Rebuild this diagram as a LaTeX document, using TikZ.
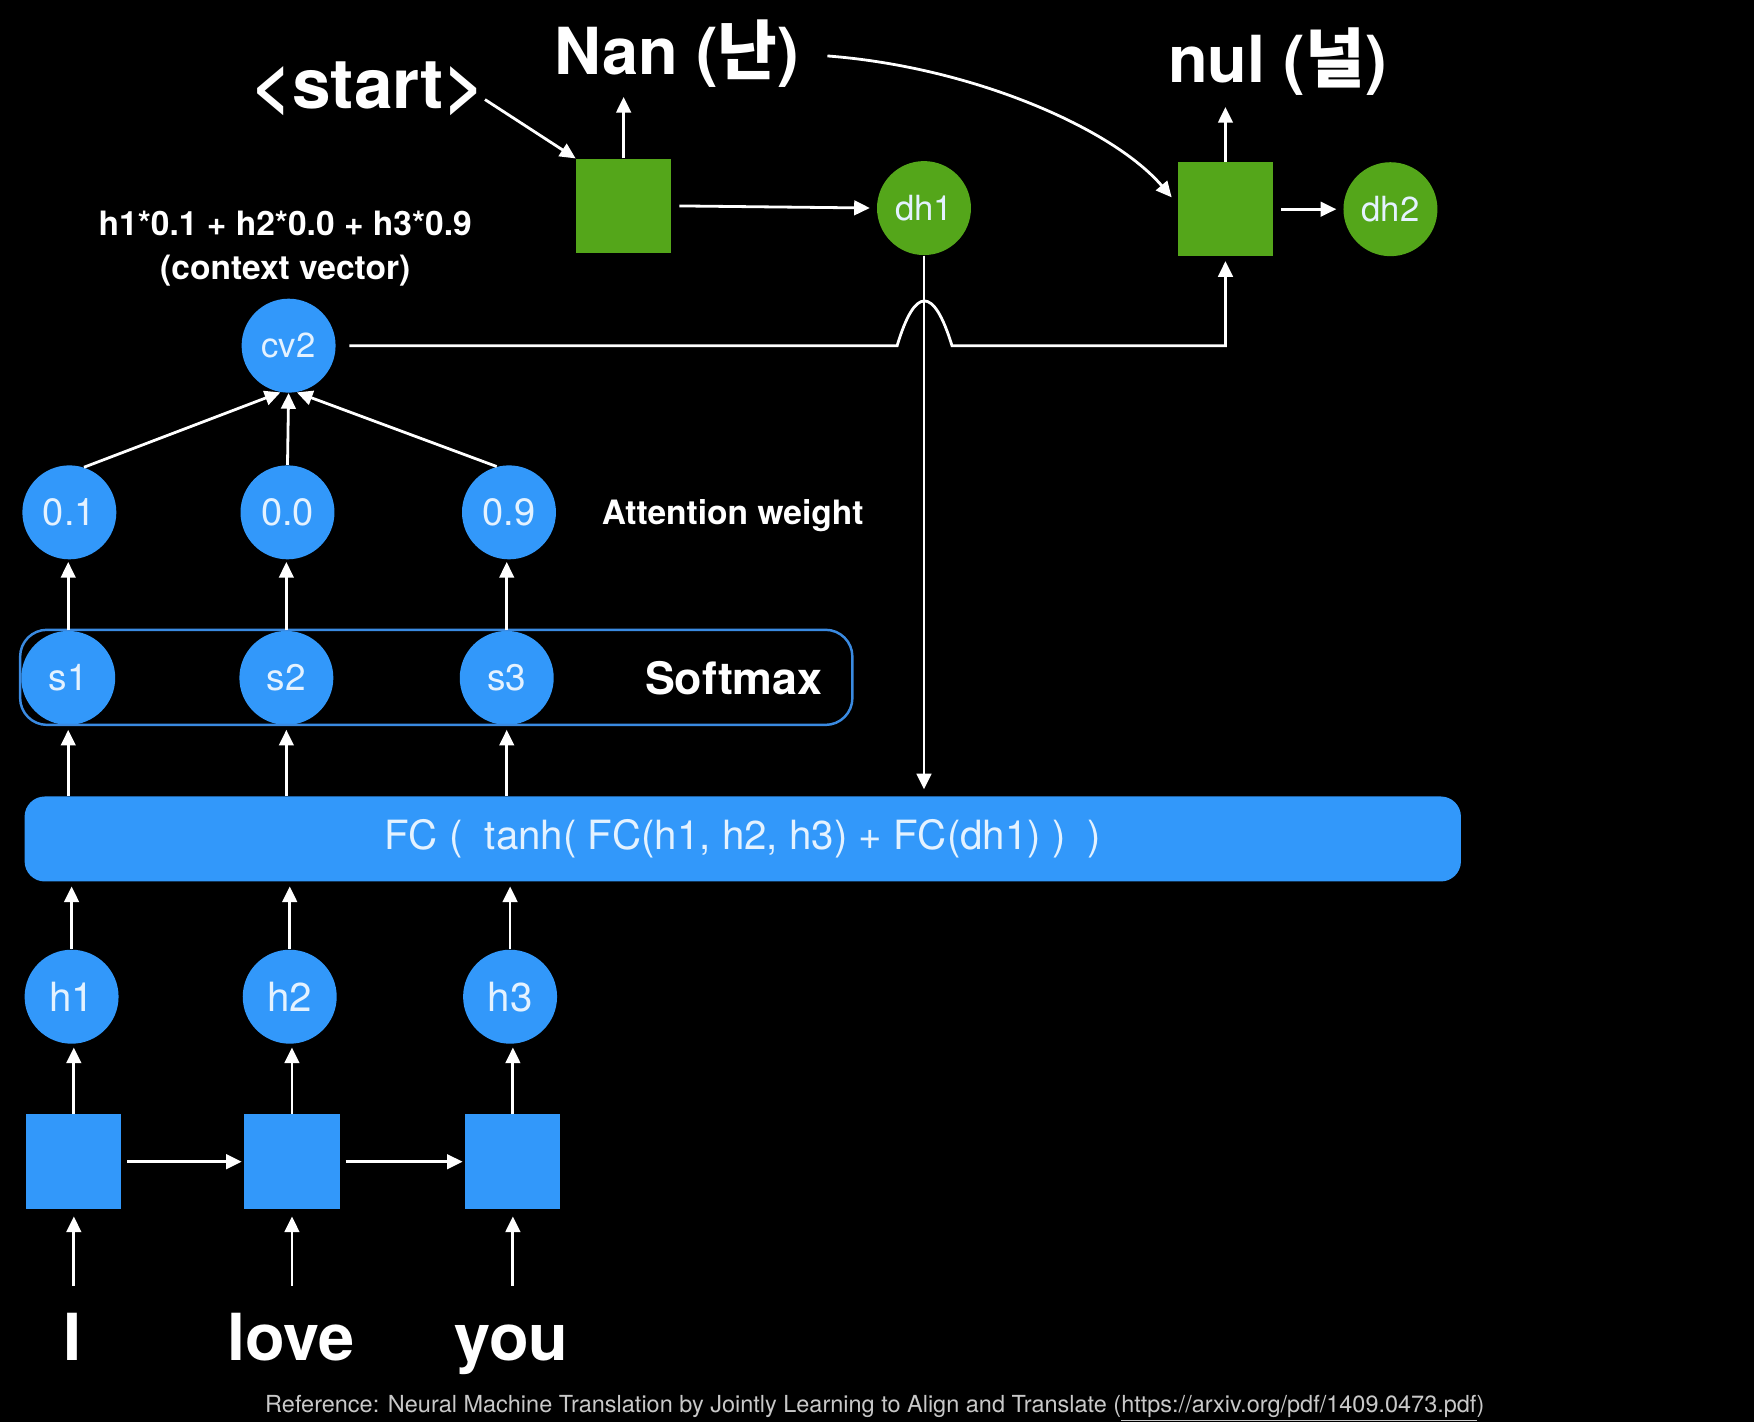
\documentclass[tikz,border=0pt]{standalone}
\usepackage{fontspec}
\setmainfont{TeX Gyre Heros}
\newfontfamily\kr{Noto Sans CJK KR}
\usetikzlibrary{arrows.meta,calc}
\definecolor{nblue}{RGB}{50,152,250}
\definecolor{ngreen}{RGB}{84,166,26}
\definecolor{sbox}{RGB}{58,138,225}
\definecolor{ctext}{RGB}{228,242,255}
\definecolor{foot}{RGB}{200,200,200}
\begin{document}
\begin{tikzpicture}[x=0.5pt,y=-0.5pt,
  circ/.style={circle,fill=nblue,minimum size=42pt,inner sep=0pt,text=ctext,font=\fontsize{17}{20}\selectfont},
  gcirc/.style={circ,fill=ngreen,font=\fontsize{15.5}{18}\selectfont},
  bsq/.style={rectangle,fill=nblue,minimum width=42.5pt,minimum height=42.5pt,inner sep=0pt},
  gsq/.style={rectangle,fill=ngreen,minimum width=42.5pt,minimum height=42pt,inner sep=0pt},
  arr/.style={draw=white,line width=1.25pt,-{Triangle[length=7pt,width=6.5pt]}},
  bigtxt/.style={text=white,inner sep=2pt,font=\fontsize{29}{34}\selectfont\bfseries},
  midtxt/.style={text=white,inner sep=2pt,font=\fontsize{15}{19.5}\selectfont\bfseries},
]
\useasboundingbox (0,0) rectangle (1568,1271);
\path[fill=black] (0,0) rectangle (1568,1271);

% decoder
\node[bigtxt,font=\fontsize{31}{36}\selectfont\bfseries] (start) at (329,79) {<start>};
\node[bigtxt] (nan) at (605,48) {Nan ({\kr 난})};
\node[bigtxt] (nul) at (1142,55) {nul ({\kr 널})};
\node[gsq] (g1) at (557.5,184) {};
\node[gsq] (g2) at (1095.5,187) {};
\node[gcirc] (dh1) at (826,186) {dh1};
\node[gcirc] (dh2) at (1243,187) {dh2};

\draw[arr] ($(start.east)+(-4,10)$) -- (g1.north west);
\draw[arr,shorten >=2pt] (g1.north) -- (g1.north |- nan.south);
\draw[arr,shorten >=3pt] (g2.north) -- (g2.north |- nul.south);
\draw[arr,shorten <=3.5pt,shorten >=3pt] (g1.east) -- (dh1.west);
\draw[arr,shorten <=3.5pt,shorten >=3pt] (g2.east) -- (dh2.west);
\draw[arr,shorten >=4pt] ($(nan.east)+(21,2)$) .. controls (870,60) and (995,115) .. (g2.174);

% context vector
\node[midtxt,align=center] (ctx) at (255,222) {h1*0.1 + h2*0.0 + h3*0.9\\(context vector)};
\node[circ,font=\fontsize{15.5}{18}\selectfont] (cv2) at (258,309) {cv2};
\node[circ] (w1) at (62,458) {0.1};
\node[circ] (w2) at (257,458) {0.0};
\node[circ] (w3) at (455,458) {0.9};
\node[midtxt] (attn) at (655,461) {Attention weight};

\draw[arr] (w1.72) -- (cv2.-100);
\draw[arr] (w2.north) -- (cv2.south);
\draw[arr] (w3.105) -- (cv2.-80);

% hop connector
\draw[arr,shorten <=6pt,shorten >=2pt] (cv2.east) -- (802,309)
  .. controls (818,255.7) and (834.7,255.7) .. (851,309) -| (g2.south);

% softmax
\node[circ,font=\fontsize{16.5}{19}\selectfont] (s1) at (61,606) {s1};
\node[circ,font=\fontsize{16.5}{19}\selectfont] (s2) at (256,606) {s2};
\node[circ,font=\fontsize{16.5}{19}\selectfont] (s3) at (453,606) {s3};
\node[draw=sbox,line width=1.1pt,rounded corners=12pt,minimum width=372pt,minimum height=42.5pt] (smbox) at (390,605.5) {};
\node[text=white,font=\fontsize{20}{24}\selectfont\bfseries] (smtxt) at (656,606) {Softmax};

\draw[arr,shorten >=1pt] (s1.north) -- (s1.north |- w1.south);
\draw[arr,shorten >=1pt] (s2.north) -- (s2.north |- w2.south);
\draw[arr,shorten >=1pt] (s3.north) -- (s3.north |- w3.south);

% FC bar
\node[fill=nblue,rounded corners=9pt,minimum width=642pt,minimum height=38pt,inner sep=0pt,text=ctext,font=\fontsize{18}{22}\selectfont] (fc) at (664,750) {FC (\ \ tanh( FC(h1, h2, h3) + FC(dh1) )\ \ )};

\draw[arr,shorten >=2pt] (fc.north -| s1) -- (s1.south);
\draw[arr,shorten >=2pt] (fc.north -| s2) -- (s2.south);
\draw[arr,shorten >=2pt] (fc.north -| s3) -- (s3.south);
\draw[arr,shorten >=3pt] (dh1.south) -- (dh1.south |- fc.north);

% encoder
\node[circ,font=\fontsize{18}{21}\selectfont] (h1) at (64,891) {h1};
\node[circ,font=\fontsize{18}{21}\selectfont] (h2) at (259,891) {h2};
\node[circ,font=\fontsize{18}{21}\selectfont] (h3) at (456,891) {h3};
\node[bsq] (b1) at (66,1038.5) {};
\node[bsq] (b2) at (261,1038.5) {};
\node[bsq] (b3) at (458.5,1038.5) {};

\draw[arr,shorten >=2pt] (h1.north) -- (h1.north |- fc.south);
\draw[arr,shorten >=2pt] (h2.north) -- (h2.north |- fc.south);
\draw[arr,shorten >=2pt] (h3.north) -- (h3.north |- fc.south);
\draw[arr,shorten >=1.5pt] (b1.north) -- (b1.north |- h1.south);
\draw[arr,shorten >=1.5pt] (b2.north) -- (b2.north |- h2.south);
\draw[arr,shorten >=1.5pt] (b3.north) -- (b3.north |- h3.south);
\draw[arr,shorten <=2.5pt,shorten >=1pt] (b1.east) -- (b2.west);
\draw[arr,shorten <=2.5pt,shorten >=1pt] (b2.east) -- (b3.west);

\node[bigtxt,anchor=base] (wi) at (65,1216) {I};
\node[bigtxt,anchor=base] (wlove) at (260,1216) {love};
\node[bigtxt,anchor=base] (wyou) at (457,1216) {you};

\draw[arr,shorten >=3pt] ($(b1.south |- wi.north)+(0,-20)$) -- (b1.south);
\draw[arr,shorten >=3pt] ($(b2.south |- wi.north)+(0,-20)$) -- (b2.south);
\draw[arr,shorten >=3pt] ($(b3.south |- wi.north)+(0,-20)$) -- (b3.south);

\node[text=foot,inner sep=1pt,font=\fontsize{10.5}{12}\selectfont] (ref) at (782,1259) {Reference: Neural Machine Translation by Jointly Learning to Align and Translate (\underline{https://arxiv.org/pdf/1409.0473.pdf})};
\end{tikzpicture}
\end{document}
